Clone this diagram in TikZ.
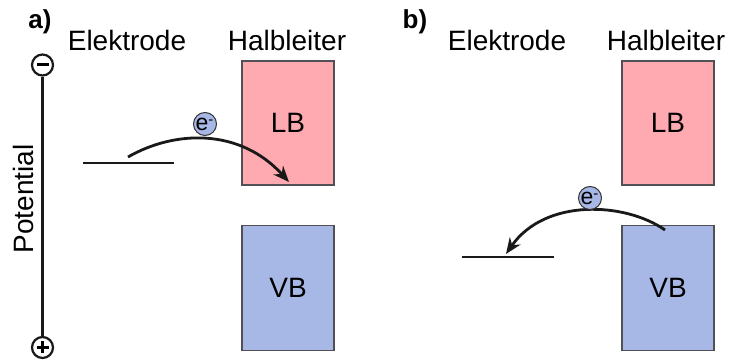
\documentclass[tikz,border=0pt]{standalone}
\usepackage{fontspec}
\setmainfont{Liberation Sans}
\usetikzlibrary{arrows.meta}
\definecolor{lbpink}{RGB}{255,170,176}
\definecolor{vbblue}{RGB}{168,184,230}
\definecolor{boxedge}{RGB}{80,80,85}
\begin{document}
\begin{tikzpicture}[x=1pt,y=-1pt,
  lbl/.style={font=\fontsize{28}{30}\selectfont, inner sep=0pt},
  panel/.style={font=\fontsize{26}{30}\selectfont\bfseries, inner sep=0pt},
  band/.style={draw=boxedge, line width=1.6pt, minimum width=92pt, inner sep=0pt, font=\fontsize{28}{30}\selectfont},
  level/.style={line width=2.5pt, black!90},
  hop/.style={line width=2.8pt, black!90, -{Stealth[length=16pt,width=13pt]}},
  elec/.style={circle, draw=black!80, line width=1pt, fill=vbblue, minimum size=23pt, inner sep=0pt, font=\fontsize{23}{23}\selectfont},
  pole/.style={circle, draw=black!90, line width=2.2pt, minimum size=21pt, inner sep=0pt}
]
\useasboundingbox (0,0) rectangle (729,363);
% ---- panel a ----
\node[panel] (pa) at (40,22) {a)};
\node[lbl] (ela) at (127,40) {Elektrode};
\node[lbl] (hla) at (287,40) {Halbleiter};
\node[band, fill=lbpink, minimum height=124pt] (lba) at (288,123) {LB};
\node[band, fill=vbblue, minimum height=125pt] (vba) at (288,288) {VB};
\node[pole] (minus) at (42.5,65) {};
\node[pole] (plus) at (42.5,347.5) {};
\draw[line width=3pt] ([xshift=-6pt]minus.center) -- ([xshift=6pt]minus.center);
\draw[line width=3pt] ([xshift=-6pt]plus.center) -- ([xshift=6pt]plus.center);
\draw[line width=3pt] ([yshift=-6pt]plus.center) -- ([yshift=6pt]plus.center);
\draw[line width=2.2pt, black!90] (minus) -- (plus);
\node[lbl, rotate=90] (pot) at (23,199) {Potential};
\coordinate (la1) at (83,163);
\coordinate (la2) at (174,163);
\draw[level] (la1) -- (la2);
\coordinate (sa) at (128,157);
\coordinate (ta) at (289,182);
\draw[hop] (sa) .. controls (175,130) and (240,128) .. (ta);
\node[elec] (ea) at (205,124) {\hspace*{-1pt}e\raisebox{6pt}{\fontsize{15}{15}\selectfont -}};
% ---- panel b ----
\node[panel] (pb) at (415,22) {b)};
\node[lbl] (elb) at (507,40) {Elektrode};
\node[lbl] (hlb) at (666,40) {Halbleiter};
\node[band, fill=lbpink, minimum height=124pt] (lbb) at (668,123) {LB};
\node[band, fill=vbblue, minimum height=125pt] (vbb) at (668,288) {VB};
\coordinate (lb1) at (462,257);
\coordinate (lb2) at (554,257);
\draw[level] (lb1) -- (lb2);
\coordinate (sb) at (665,230);
\coordinate (tb) at (506,254);
\draw[hop] (sb) .. controls (625,202) and (545,198) .. (tb);
\node[elec] (eb) at (590,198) {\hspace*{-1pt}e\raisebox{6pt}{\fontsize{15}{15}\selectfont -}};
\end{tikzpicture}
\end{document}
